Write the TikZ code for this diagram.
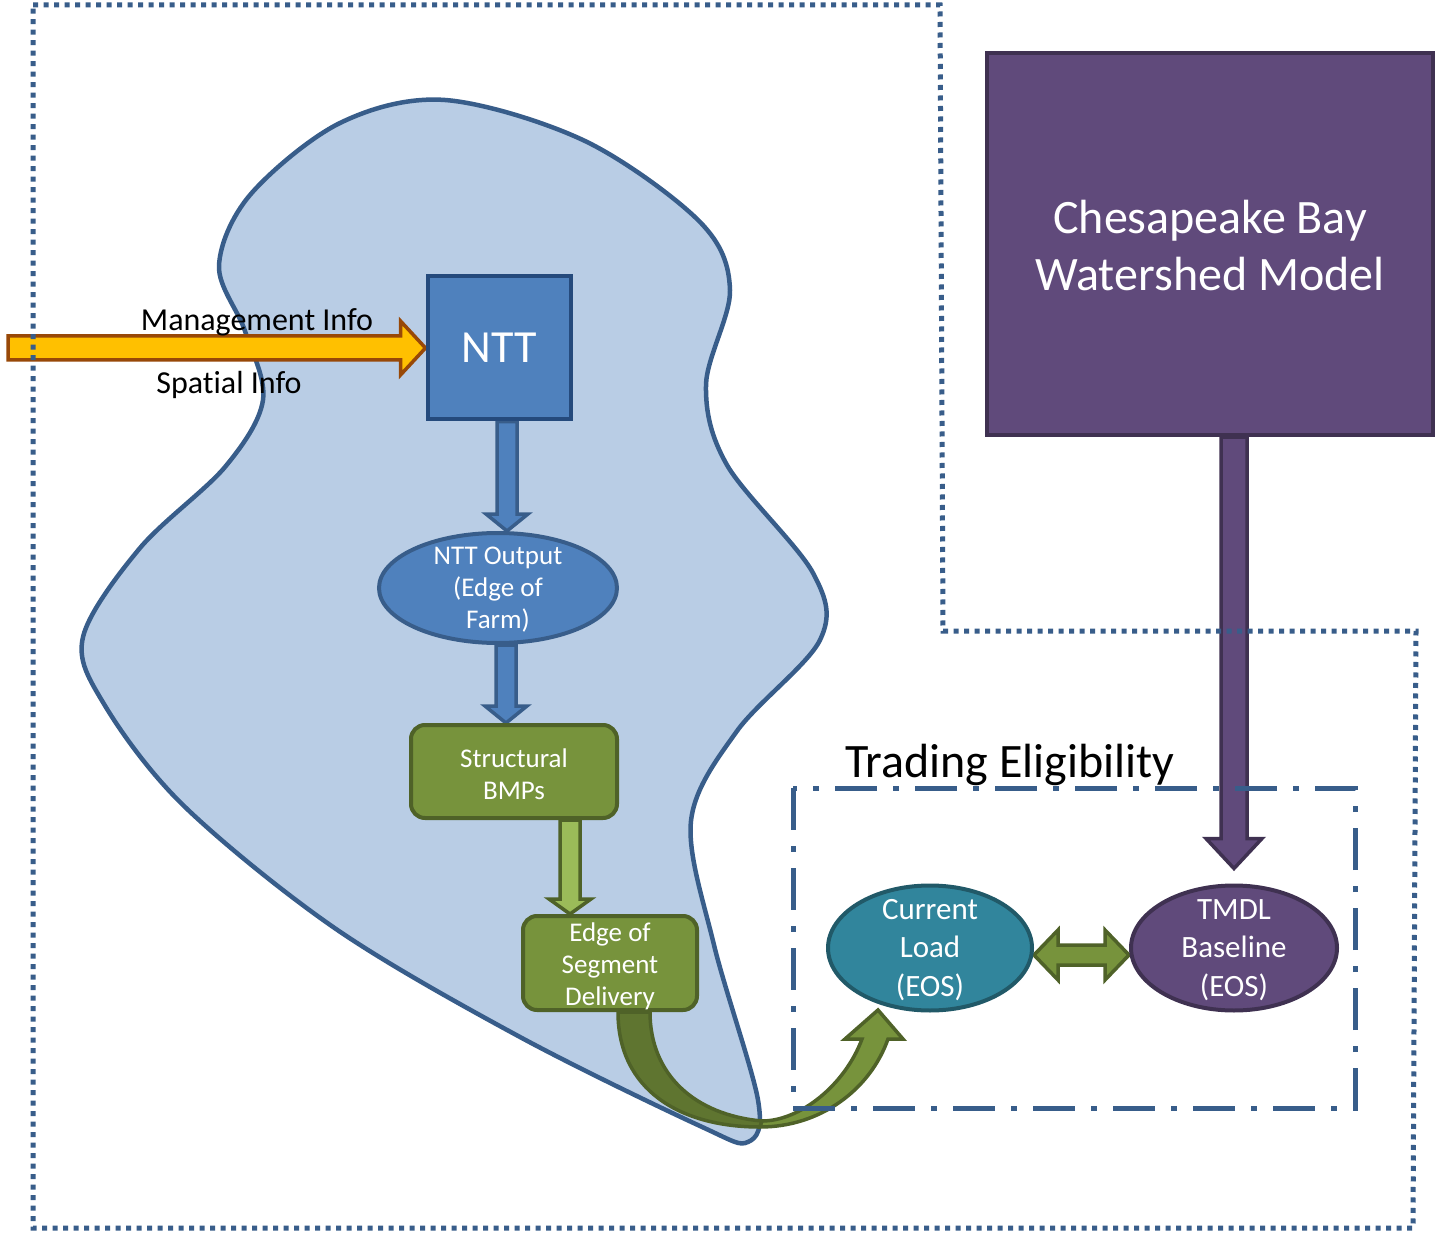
\documentclass[tikz,border=0pt]{standalone}
\usepackage{fontspec}
\setmainfont{Carlito}[Ligatures=NoCommon]
\usetikzlibrary{shapes.geometric,calc}
\definecolor{blobfill}{HTML}{B9CDE5}
\definecolor{blobline}{HTML}{385D8A}
\definecolor{nttfill}{HTML}{4F81BD}
\definecolor{nttline}{HTML}{254A7C}
\definecolor{grn}{HTML}{77933C}
\definecolor{grnline}{HTML}{4F6228}
\definecolor{ltgrn}{HTML}{9BBB59}
\definecolor{dkgrn}{HTML}{5F7530}
\definecolor{tealc}{HTML}{31859C}
\definecolor{tealline}{HTML}{215968}
\definecolor{purp}{HTML}{604A7B}
\definecolor{purpline}{HTML}{3F3151}
\definecolor{yel}{HTML}{FFC000}
\definecolor{yelline}{HTML}{984807}
\pgfdeclarelayer{blob}\pgfdeclarelayer{arrows}\pgfsetlayers{blob,arrows,main}
\newcommand\fs[2]{\fontsize{#1}{#2}\selectfont}
% vertical down block arrow: style, from, to, shaft hw, head hw, head length
\newcommand\downblk[6]{\path[#1] let \p1=(#2), \p2=(#3) in
  (\x1-#4,\y1) -- (\x1-#4,\y2+#6) -- (\x1-#5,\y2+#6) -- (\x1,\y2) --
  (\x1+#5,\y2+#6) -- (\x1+#4,\y2+#6) -- (\x1+#4,\y1) -- cycle;}
% horizontal right block arrow
\newcommand\rightblk[6]{\path[#1] let \p1=(#2), \p2=(#3) in
  (\x1,\y1+#4) -- (\x2-#6,\y1+#4) -- (\x2-#6,\y1+#5) -- (\x2,\y1) --
  (\x2-#6,\y1-#5) -- (\x2-#6,\y1-#4) -- (\x1,\y1-#4) -- cycle;}
% double-headed horizontal block arrow
\newcommand\dblblk[6]{\path[#1] let \p1=(#2), \p2=(#3) in
  (\x1,\y1) -- (\x1+#6,\y1+#5) -- (\x1+#6,\y1+#4) -- (\x2-#6,\y1+#4) --
  (\x2-#6,\y1+#5) -- (\x2,\y1) -- (\x2-#6,\y1-#5) -- (\x2-#6,\y1-#4) --
  (\x1+#6,\y1-#4) -- (\x1+#6,\y1-#5) -- cycle;}
\tikzset{
  wtxt/.style={inner sep=0pt, align=center, text=white},
  btxt/.style={inner sep=0pt, align=center, text=black},
  ellnode/.style={ellipse, inner sep=0pt, line width=4pt},
  grnbox/.style={rectangle, rounded corners=14pt, fill=grn, draw=grnline, line width=4pt, inner sep=0pt},
  bluearrow/.style={fill=nttfill, draw=blobline, line width=3.5pt, line join=miter},
  grnarrow/.style={fill=grn, draw=grnline, line width=3.5pt, line join=miter},
  dotframe/.style={draw=blobline, line width=5pt, dash pattern=on 5pt off 5.5pt},
  dashdotframe/.style={draw=blobline, line width=5pt, dash pattern=on 42pt off 16pt on 6pt off 16pt},
}
\begin{document}
\begin{tikzpicture}[x=1pt,y=-1pt]
\useasboundingbox (0,0) rectangle (1436,1233);

% watershed blob
\begin{pgfonlayer}{blob}
\fill[white] (0,0) rectangle (1436,1233);
\draw[fill=blobfill, draw=blobline, line width=4.5pt] plot[smooth cycle, tension=0.55] coordinates {
 (445,100) (585,141) (700,222) (730,290) (706,385) (727,465) (813,573) (820,640)
 (737,731) (691,821) (714,945) (758,1100) (748,1142) (700,1126) (520,1037) (336,929)
 (184,806) (104,704) (83,637) (140,548) (225,467) (263,400) (245,331) (219,266)
 (250,195) (340,123)};
\end{pgfonlayer}

% nodes
\node[rectangle, fill=nttfill, draw=nttline, line width=4pt, minimum width=143pt, minimum height=143pt, inner sep=0pt] (ntt) at (499,348) {};
\node[wtxt, font=\fs{46}{52}] (nttT) at (ntt.center) {NTT};

\node[ellnode, fill=nttfill, draw=blobline, minimum width=238pt, minimum height=110pt] (out) at (498,588) {};
\node[wtxt, font=\fs{27}{32}] (outT) at (498,590) {NTT Output\\(Edge of\\Farm)};

\node[grnbox, minimum width=206pt, minimum height=93pt] (bmp) at (514,771.5) {};
\node[wtxt, font=\fs{27}{32}] (bmpT) at (514,774) {Structural\\BMPs};

\node[grnbox, minimum width=174pt, minimum height=94pt] (eos) at (610,963) {};
\node[wtxt, font=\fs{27}{32}] (eosT) at (610,966) {Edge of\\Segment\\Delivery};

\node[ellnode, fill=tealc, draw=tealline, minimum width=204pt, minimum height=125pt] (cur) at (930,948) {};
\node[wtxt, font=\fs{31}{38.5}] (curT) at (930,950) {Current\\Load\\(EOS)};

\node[ellnode, fill=purp, draw=purpline, minimum width=206pt, minimum height=125pt] (tmdl) at (1234,948) {};
\node[wtxt, font=\fs{31}{38.5}] (tmdlT) at (1234,950) {TMDL\\Baseline\\(EOS)};

\node[rectangle, fill=purp, draw=purpline, line width=4pt, minimum width=446pt, minimum height=382pt, inner sep=0pt] (cbw) at (1210,244) {};
\node[wtxt, font=\fs{48}{57}] (cbwT) at (1210,246) {Chesapeake Bay\\Watershed Model};

\node[btxt, font=\fs{32}{38}] (mgmt) at (257,322) {Management Info};
\node[btxt, font=\fs{32}{38}] (spat) at (229,385) {Spatial Info};
\node[btxt, font=\fs{48}{54}] (trade) at (1010,765) {Trading Eligibility};

\coordinate (ystart) at (8,348);

% arrows
\begin{pgfonlayer}{arrows}
\rightblk{fill=yel, draw=yelline, line width=3.5pt, line join=miter}{ystart}{ntt.west}{12pt}{27pt}{25pt}
\downblk{bluearrow}{$(ntt.south)+(8,0)$}{out.north}{10pt}{21pt}{17pt}
\downblk{bluearrow}{$(out.south)+(8,0)$}{bmp.north}{10pt}{21pt}{17pt}
\downblk{fill=ltgrn, draw=grnline, line width=3.5pt, line join=miter}{$(bmp.south)+(56,0)$}{eos.north}{10pt}{21pt}{15pt}
\downblk{fill=purp, draw=purpline, line width=3.5pt, line join=miter}{cbw.south -| tmdl.north}{$(tmdl.north)+(0,-15)$}{13pt}{28pt}{30pt}
\dblblk{grnarrow}{$(cur.east)+(0,7)$}{$(tmdl.west)+(0,7)$}{10pt}{25pt}{24pt}
% curved arrow from edge of segment to current load
\coordinate (cA) at (618,1012);
\coordinate (cB) at (650,1012);
\coordinate (cLow) at (760,1127);
\coordinate (cLowIn) at (762,1121);
\coordinate (cTip) at (878,1010);
\filldraw[fill=dkgrn, draw=grnline, line width=3.5pt, line join=round]
  (cA) .. controls (618,1090) and (680,1127) .. (cLow) -- (cLowIn)
  .. controls (695,1115) and (650,1075) .. (cB) -- cycle;
\filldraw[fill=grn, draw=grnline, line width=3.5pt, line join=miter]
  (cLow) .. controls (820,1127) and (870,1090) .. (888,1039) -- (903,1039) -- (cTip)
  -- (845,1039) -- (862,1039) .. controls (845,1085) and (800,1121) .. (cLowIn) -- cycle;
\end{pgfonlayer}

% frames
\draw[dotframe] (33,5) -- (940,5) -- (943,631) -- (1416,631) -- (1413,1228) -- (33,1228) -- cycle;
\draw[dashdotframe] (793,788) rectangle (1355,1108);
\end{tikzpicture}
\end{document}
